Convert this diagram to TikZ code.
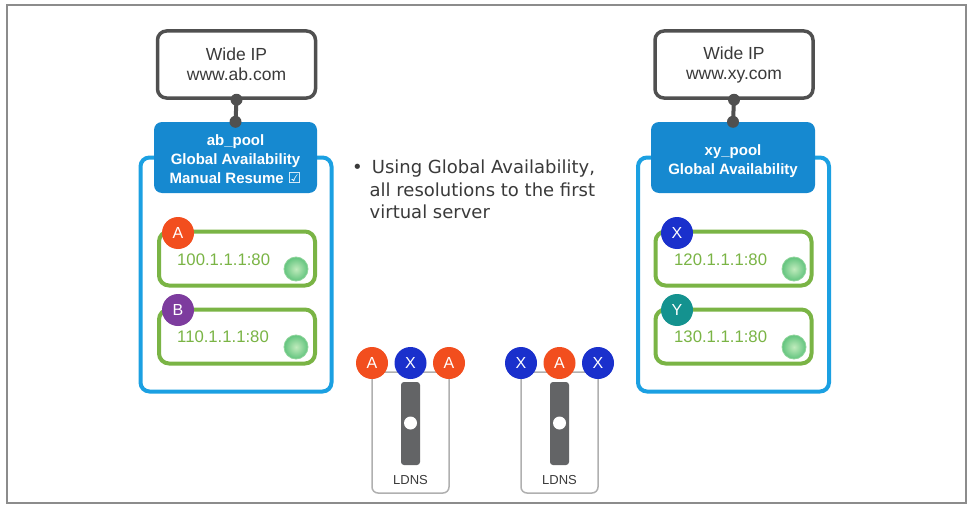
\documentclass[tikz,border=0pt]{standalone}
\usepackage{fontspec}
\setmainfont{Liberation Sans}
\newfontfamily\bulletfont{DejaVu Sans}
\newfontfamily\symfont{DejaVu Sans}
\definecolor{wipgray}{HTML}{505050}
\definecolor{textgray}{HTML}{3A3A3A}
\definecolor{hdrblue}{HTML}{1689D0}
\definecolor{frameblue}{HTML}{1BA0E2}
\definecolor{srvgreen}{HTML}{7AB445}
\definecolor{dotlight}{HTML}{C0EBBC}
\definecolor{dotdark}{HTML}{62C47E}
\definecolor{dotrim}{HTML}{8FD49A}
\definecolor{cA}{HTML}{F24E1E}
\definecolor{cX}{HTML}{1A30CC}
\definecolor{cB}{HTML}{7D3C9E}
\definecolor{cY}{HTML}{14928F}
\definecolor{ldnsgray}{HTML}{B0B0B0}
\definecolor{slidergray}{HTML}{636466}
\definecolor{outergray}{HTML}{8C8C8C}
\tikzset{
  wideip/.style={draw=wipgray, line width=3.5pt, rounded corners=9pt, fill=white,
    minimum width=158pt, minimum height=67pt, align=center, inner sep=0pt,
    font=\fontsize{17.5}{20}\selectfont, text=textgray},
  hdr/.style={fill=hdrblue, rounded corners=8pt, minimum height=71pt, inner sep=0pt},
  hdrtext/.style={text=white, font=\bfseries\fontsize{15}{19}\selectfont, align=center, inner sep=0pt},
  poolframe/.style={draw=frameblue, line width=4pt, rounded corners=9pt, minimum height=234pt, inner sep=0pt},
  srv/.style={draw=srvgreen, line width=4pt, rounded corners=10pt, minimum width=156pt, minimum height=54pt, fill=white, inner sep=0pt},
  srvtext/.style={text=srvgreen, font=\fontsize{16.7}{18}\selectfont, anchor=west, inner sep=0pt},
  badge/.style={circle, minimum size=32pt, inner sep=0pt, text=white, font=\fontsize{16}{16}\selectfont},
  okdot/.style={circle, minimum size=24pt, inner sep=0pt, draw=dotrim, line width=0.8pt, inner color=dotlight, outer color=dotdark},
  ldnsbox/.style={draw=ldnsgray, line width=1.5pt, rounded corners=6pt, minimum width=77pt, minimum height=121pt, inner sep=0pt},
  slider/.style={fill=slidergray, rounded corners=3pt, minimum width=19pt, minimum height=83pt, inner sep=0pt},
  knob/.style={circle, fill=white, minimum size=13pt, inner sep=0pt},
  ldnstext/.style={text=textgray, font=\fontsize{13}{14}\selectfont, inner sep=0pt},
  conn/.style={draw=wipgray, line width=4pt},
  cdot/.style={fill=wipgray}
}
\begin{document}
\begin{tikzpicture}[x=1pt,y=-1pt]
\useasboundingbox (0,0) rectangle (972,511);
\fill[white] (0,0) rectangle (972,511);
\draw[outergray, line width=2.5pt] (7,5) rectangle (966,503);

% ---------- left pool ----------
\node[poolframe, minimum width=191pt] (fl) at (236,274.5) {};
\node[wideip] (wl) at (236.5,64.5) {Wide IP\\www.ab.com};
\node[hdr, minimum width=163pt] (hl) at (235.5,157.5) {};
\draw[conn] (wl.south) -- (hl.north);
\fill[cdot] (wl.south) circle (6);
\fill[cdot] (hl.north) circle (6);
\node[hdrtext] (hlt) at (235.5,159.5) {ab\_pool\\Global Availability\\Manual Resume {\symfont ☑}};

\node[srv] (sa) at (237,258.5) {};
\node[srvtext] (sat) at (177,260) {100.1.1.1:80};
\node[okdot] (da) at (296,269) {};
\node[badge, fill=cA] (ba) at (178,233) {A};

\node[srv] (sb) at (237,336.5) {};
\node[srvtext] (sbt) at (177,337) {110.1.1.1:80};
\node[okdot] (db) at (296,347) {};
\node[badge, fill=cB] (bb) at (178,310) {B};

% ---------- right pool ----------
\node[poolframe, minimum width=191pt] (fr) at (733.5,274.5) {};
\node[wideip] (wr) at (734,64.5) {Wide IP\\www.xy.com};
\node[hdr, minimum width=164pt] (hr) at (733,157.5) {};
\draw[conn] (wr.south) -- (hr.north);
\fill[cdot] (wr.south) circle (6);
\fill[cdot] (hr.north) circle (6);
\node[hdrtext] (hrt) at (733,161) {xy\_pool\\Global Availability};

\node[srv] (sx) at (733.5,258.5) {};
\node[srvtext] (sxt) at (674,260) {120.1.1.1:80};
\node[okdot] (dx) at (794,269) {};
\node[badge, fill=cX] (bx) at (677,233) {X};

\node[srv] (sy) at (733.5,336.5) {};
\node[srvtext] (syt) at (674,337) {130.1.1.1:80};
\node[okdot] (dy) at (794,347) {};
\node[badge, fill=cY] (by) at (677,310) {Y};

% ---------- bullet text ----------
\node[anchor=north west, align=left, inner sep=0pt, text=textgray,
      font=\bulletfont\fontsize{18}{22.5}\selectfont] (bt) at (352,160)
  {•\hspace{9pt}Using Global Availability,\\\hspace{17.5pt}all resolutions to the first\\\hspace{17.5pt}virtual server};

% ---------- LDNS left ----------
\node[ldnsbox] (l1) at (410.5,432.5) {};
\node[slider] (s1) at (410.5,423.5) {};
\node[knob] (k1) at (410.5,423) {};
\node[badge, fill=cA] (l1a) at (372,363) {A};
\node[badge, fill=cX] (l1b) at (410.5,363) {X};
\node[badge, fill=cA] (l1c) at (449,363) {A};
\node[ldnstext] (l1t) at (410.5,480) {LDNS};

% ---------- LDNS right ----------
\node[ldnsbox] (l2) at (559.5,432.5) {};
\node[slider] (s2) at (559.5,423.5) {};
\node[knob] (k2) at (559.5,423) {};
\node[badge, fill=cX] (l2a) at (521,363) {X};
\node[badge, fill=cA] (l2b) at (559.5,363) {A};
\node[badge, fill=cX] (l2c) at (598,363) {X};
\node[ldnstext] (l2t) at (559.5,480) {LDNS};
\end{tikzpicture}
\end{document}
